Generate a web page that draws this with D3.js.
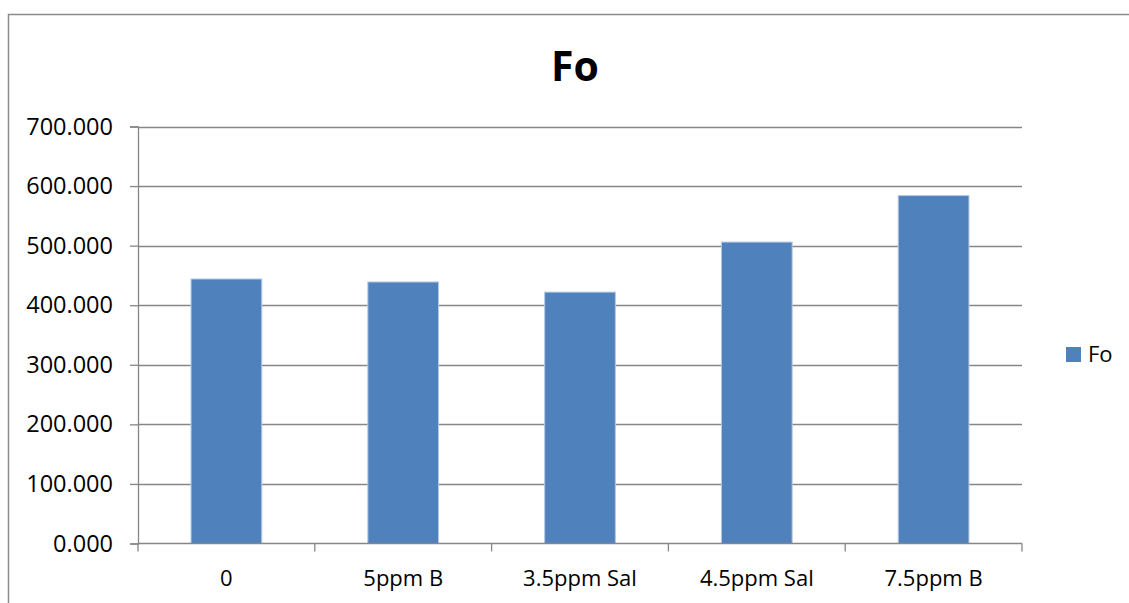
<!DOCTYPE html>
<html>
<head>
<meta charset="utf-8">
<script src="https://cdn.jsdelivr.net/npm/d3@7"></script>
<style>
  html, body { margin: 0; padding: 0; background: #fff; }
  svg { display: block; }
</style>
</head>
<body>
<div id="root"></div>
<script>
const categories = ["0", "5ppm B", "3.5ppm Sal", "4.5ppm Sal", "7.5ppm B"];
const foValues = [444, 439, 422, 506, 584];
const yTicks = [0, 100, 200, 300, 400, 500, 600, 700];
const seriesName = "Fo";

const width = 1129;
const height = 603;
const plot = { left: 138, right: 1022, top: 126.5, bottom: 543.5 };
const fontFamily = "'Open Sans', 'Noto Sans', sans-serif";
const gridColor = "#868686";
const barColor = "#4f81bd";

const svg = d3.select("#root")
  .append("svg")
  .attr("width", width)
  .attr("height", height)
  .attr("viewBox", `0 0 ${width} ${height}`)
  .style("font-family", fontFamily);

// chart area frame (runs off the right and bottom edges)
svg.append("rect")
  .attr("x", 8.5)
  .attr("y", 14.5)
  .attr("width", width + 20)
  .attr("height", height + 20)
  .attr("fill", "#fff")
  .attr("stroke", "#8c8c8c")
  .attr("stroke-width", 1.5);

const y = d3.scaleLinear()
  .domain([0, 700])
  .range([plot.bottom, plot.top]);

const xCat = d3.scaleBand()
  .domain(categories)
  .range([plot.left, plot.right])
  .padding(0);

const xBar = d3.scaleBand()
  .domain(categories)
  .range([plot.left, plot.right])
  .paddingInner(0.6)
  .paddingOuter(0.3);

// gridlines
svg.append("g")
  .selectAll("line")
  .data(yTicks.filter(d => d > 0))
  .join("line")
  .attr("x1", plot.left)
  .attr("x2", plot.right)
  .attr("y1", d => Math.round(y(d)) + 0.5)
  .attr("y2", d => Math.round(y(d)) + 0.5)
  .attr("stroke", gridColor)
  .attr("stroke-width", 1.3);

// bars
svg.append("g")
  .selectAll("rect")
  .data(foValues)
  .join("rect")
  .attr("x", (d, i) => xBar(categories[i]))
  .attr("y", d => y(d))
  .attr("width", xBar.bandwidth())
  .attr("height", d => y(0) - y(d))
  .attr("fill", barColor)
  .attr("stroke", "#b4c8e2")
  .attr("stroke-width", 1);

// y axis
const yAxis = d3.axisLeft(y)
  .tickValues(yTicks)
  .tickFormat(d3.format(".3f"))
  .tickSize(8)
  .tickPadding(17);

const yg = svg.append("g")
  .attr("transform", `translate(${plot.left},0)`)
  .call(yAxis);
yg.select(".domain").attr("stroke", gridColor).attr("stroke-width", 1.3);
yg.selectAll(".tick line").attr("stroke", gridColor).attr("stroke-width", 1.3);
yg.selectAll(".tick text")
  .attr("font-size", 23.5)
  .attr("fill", "#000")
  .attr("font-family", fontFamily);

// x axis: ticks between categories
const xg = svg.append("g");
xg.append("line")
  .attr("x1", plot.left)
  .attr("x2", plot.right)
  .attr("y1", y(0))
  .attr("y2", y(0))
  .attr("stroke", gridColor)
  .attr("stroke-width", 1.3);

const boundaries = categories.map(c => xCat(c)).concat([plot.right]);
xg.selectAll("line.tick")
  .data(boundaries)
  .join("line")
  .attr("class", "tick")
  .attr("x1", d => d)
  .attr("x2", d => d)
  .attr("y1", y(0))
  .attr("y2", y(0) + 8)
  .attr("stroke", gridColor)
  .attr("stroke-width", 1.3);

xg.selectAll("text")
  .data(categories)
  .join("text")
  .attr("x", d => xCat(d) + xCat.bandwidth() / 2)
  .attr("y", 586)
  .attr("text-anchor", "middle")
  .attr("font-size", 22)
  .attr("fill", "#000")
  .text(d => d);

// title
svg.append("text")
  .attr("x", 575)
  .attr("y", 81)
  .attr("text-anchor", "middle")
  .attr("font-size", 41)
  .attr("font-weight", "bold")
  .attr("fill", "#000")
  .text(seriesName);

// legend
const legend = svg.append("g").attr("transform", "translate(1066,347)");
legend.append("rect")
  .attr("width", 15)
  .attr("height", 15)
  .attr("fill", barColor);
legend.append("text")
  .attr("x", 22)
  .attr("y", 15)
  .attr("font-size", 22)
  .attr("fill", "#000")
  .text(seriesName);
</script>
</body>
</html>
